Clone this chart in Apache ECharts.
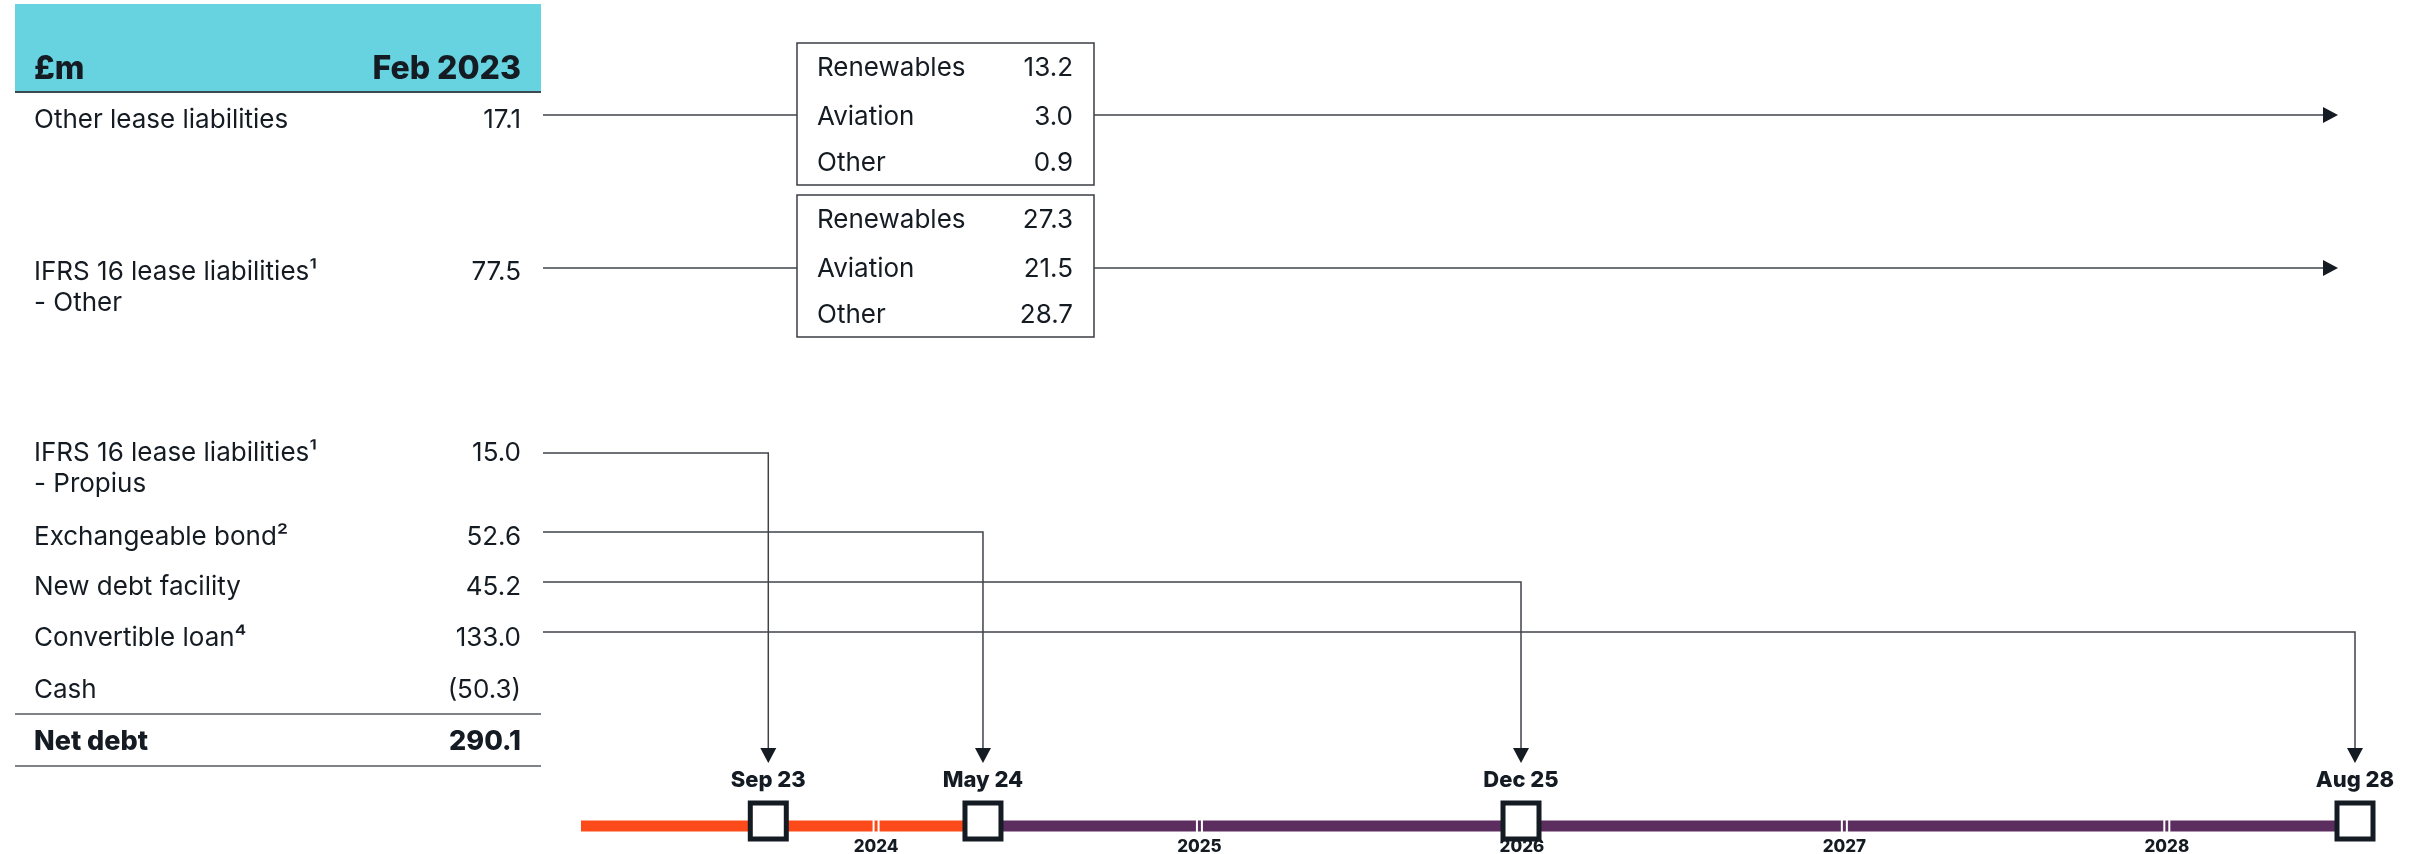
<!DOCTYPE html>
<html>
<head>
<meta charset="utf-8">
<script src="https://cdn.jsdelivr.net/npm/echarts@6/dist/echarts.min.js"></script>
<style>
  html, body { margin: 0; padding: 0; background: #ffffff; }
  #chart { width: 2417px; height: 854px; }
</style>
</head>
<body>
<div id="chart"></div>
<script>
// ---- Net debt table ----
const headerLabels = ['£m', 'Feb 2023'];
const debtItems = [
  'Other lease liabilities',
  'IFRS 16 lease liabilities¹\n- Other',
  'IFRS 16 lease liabilities¹\n- Propius',
  'Exchangeable bond²',
  'New debt facility',
  'Convertible loan⁴',
  'Cash'
];
const debtValues = [17.1, 77.5, 15.0, 52.6, 45.2, 133.0, -50.3];
const netDebtLabel = 'Net debt';
const netDebtValue = 290.1;

// ---- Lease liability splits ----
const splitCategories = ['Renewables', 'Aviation', 'Other'];
const otherLeaseSplit = [13.2, 3.0, 0.9];
const ifrsOtherSplit = [27.3, 21.5, 28.7];

// ---- Maturity timeline ----
const maturityLabels = ['Sep 23', 'May 24', 'Dec 25', 'Aug 28'];
const maturityDates = ['2023-09-01', '2024-05-01', '2025-12-31', '2028-08-01'];
const maturityItemIndex = [2, 3, 4, 5];
const timelineStart = '2023-02-01';
const timelineEnd = '2028-08-01';
const phaseChangeDate = '2024-05-01';
const yearTicks = ['2024', '2025', '2026', '2027', '2028'];

// ---- Styling / layout ----
const INK = '#141B22';
const WIRE = '#3F444A';
const ORANGE = '#FC4A1A';
const PURPLE = '#5C2E5F';
const CYAN = '#67D3E0';
const FONT = 'Inter, "Noto Sans", sans-serif';
const regular = (size) => '400 ' + size + 'px ' + FONT;
const heavy = (size) => '800 ' + size + 'px ' + FONT;

const tableLeft = 15, tableRight = 541, labelX = 34, valueX = 521;
const rowCenters = [120, 272, 453, 537, 587, 638, 690];
const wireY = [115, 268, 453, 532, 582, 632];
const netDebtY = 742;
const lineHeight = 31;
const wireStart = 543;
const bodySize = 26;
const splitBoxes = [
  { x: 797, y: 43, w: 297, h: 142, values: otherLeaseSplit, item: 0 },
  { x: 797, y: 195, w: 297, h: 142, values: ifrsOtherSplit, item: 1 }
];
const splitRowOffsets = [25, 74, 120];
const rightArrowTip = 2338;
const downArrowTip = 763;

const fmt = (v) => v < 0 ? '(' + Math.abs(v).toFixed(1) + ')' : v.toFixed(1);

const chart = echarts.init(document.getElementById('chart'), null, { renderer: 'canvas' });

chart.setOption({
  animation: false,
  backgroundColor: '#ffffff',
  grid: { left: 581, right: 62, top: 816, bottom: 18, containLabel: false },
  xAxis: { type: 'time', min: timelineStart, max: timelineEnd, show: false },
  yAxis: { type: 'value', min: -1, max: 1, show: false },
  series: [
    {
      type: 'line', silent: true, symbol: 'none', z: 1,
      lineStyle: { color: ORANGE, width: 11, cap: 'butt' },
      data: [[timelineStart, 0], [phaseChangeDate, 0]]
    },
    {
      type: 'line', silent: true, symbol: 'none', z: 1,
      lineStyle: { color: PURPLE, width: 11, cap: 'butt' },
      data: [[phaseChangeDate, 0], [timelineEnd, 0]]
    },
    {
      type: 'scatter', silent: true, z: 2,
      symbol: 'rect', symbolSize: 36, symbolOffset: [0, -5],
      itemStyle: { color: '#ffffff', borderColor: INK, borderWidth: 5, opacity: 1 },
      label: {
        show: true, position: 'top', distance: 9, formatter: '{b}',
        color: INK, fontSize: 22, fontWeight: 800, fontFamily: FONT
      },
      data: maturityDates.map((d, i) => ({ name: maturityLabels[i], value: [d, 0] }))
    },
    {
      type: 'scatter', silent: true, z: 3,
      symbol: 'path://M0,0H2V10H0Z M5,0H7V10H5Z', symbolSize: [7, 13],
      itemStyle: { color: '#ffffff', opacity: 1 },
      label: {
        show: true, position: 'bottom', distance: 6, formatter: '{b}',
        color: INK, fontSize: 17, fontWeight: 800, fontFamily: FONT
      },
      data: yearTicks.map((y) => ({ name: y, value: [y + '-01-01', 0] }))
    }
  ]
});

const graphics = [];

// Table header band
graphics.push({ type: 'rect', shape: { x: tableLeft, y: 4, width: tableRight - tableLeft, height: 88 }, style: { fill: CYAN } });
graphics.push({ type: 'line', shape: { x1: tableLeft, y1: 92, x2: tableRight, y2: 92 }, style: { stroke: '#3A4A50', lineWidth: 2 } });
graphics.push({ type: 'text', x: labelX, y: 69, style: { text: headerLabels[0], font: heavy(32), fill: INK, align: 'left', verticalAlign: 'middle' } });
graphics.push({ type: 'text', x: valueX, y: 69, style: { text: headerLabels[1], font: heavy(32), fill: INK, align: 'right', verticalAlign: 'middle' } });

// Table rows
debtItems.forEach((label, i) => {
  graphics.push({ type: 'text', x: labelX, y: rowCenters[i] - lineHeight / 2,
    style: { text: label, font: regular(bodySize), fill: INK, align: 'left', verticalAlign: 'top', lineHeight: lineHeight } });
  graphics.push({ type: 'text', x: valueX, y: rowCenters[i] - lineHeight / 2,
    style: { text: fmt(debtValues[i]), font: regular(bodySize), fill: INK, align: 'right', verticalAlign: 'top', lineHeight: lineHeight } });
});
graphics.push({ type: 'line', shape: { x1: tableLeft, y1: 714, x2: tableRight, y2: 714 }, style: { stroke: '#555A60', lineWidth: 1.5 } });
graphics.push({ type: 'text', x: labelX, y: netDebtY, style: { text: netDebtLabel, font: heavy(27), fill: INK, align: 'left', verticalAlign: 'middle' } });
graphics.push({ type: 'text', x: valueX, y: netDebtY, style: { text: fmt(netDebtValue), font: heavy(27), fill: INK, align: 'right', verticalAlign: 'middle' } });
graphics.push({ type: 'line', shape: { x1: tableLeft, y1: 766, x2: tableRight, y2: 766 }, style: { stroke: '#555A60', lineWidth: 1.5 } });

// Split boxes with pass-through arrows
splitBoxes.forEach((b) => {
  const y = wireY[b.item];
  graphics.push({ type: 'rect', shape: { x: b.x, y: b.y, width: b.w, height: b.h }, style: { fill: '#ffffff', stroke: '#3A3F45', lineWidth: 1.5 } });
  splitCategories.forEach((c, j) => {
    graphics.push({ type: 'text', x: b.x + 20, y: b.y + splitRowOffsets[j], style: { text: c, font: regular(bodySize), fill: INK, align: 'left', verticalAlign: 'middle' } });
    graphics.push({ type: 'text', x: b.x + b.w - 21, y: b.y + splitRowOffsets[j], style: { text: fmt(b.values[j]), font: regular(bodySize), fill: INK, align: 'right', verticalAlign: 'middle' } });
  });
  graphics.push({ type: 'line', shape: { x1: wireStart, y1: y, x2: b.x, y2: y }, style: { stroke: WIRE, lineWidth: 1.5 } });
  graphics.push({ type: 'line', shape: { x1: b.x + b.w, y1: y, x2: rightArrowTip - 14, y2: y }, style: { stroke: WIRE, lineWidth: 1.5 } });
  graphics.push({ type: 'polygon', shape: { points: [[rightArrowTip - 15, y - 8], [rightArrowTip, y], [rightArrowTip - 15, y + 8]] }, style: { fill: INK } });
});

// Elbow arrows from each debt item down to its maturity on the timeline
maturityDates.forEach((d, k) => {
  const x = chart.convertToPixel({ gridIndex: 0 }, [d, 0])[0];
  const y = wireY[maturityItemIndex[k]];
  graphics.push({ type: 'polyline', shape: { points: [[wireStart, y], [x, y], [x, downArrowTip - 14]] }, style: { stroke: WIRE, lineWidth: 1.5, fill: null } });
  graphics.push({ type: 'polygon', shape: { points: [[x - 8, downArrowTip - 15], [x + 8, downArrowTip - 15], [x, downArrowTip]] }, style: { fill: INK } });
});

chart.setOption({ graphic: graphics });
</script>
</body>
</html>
